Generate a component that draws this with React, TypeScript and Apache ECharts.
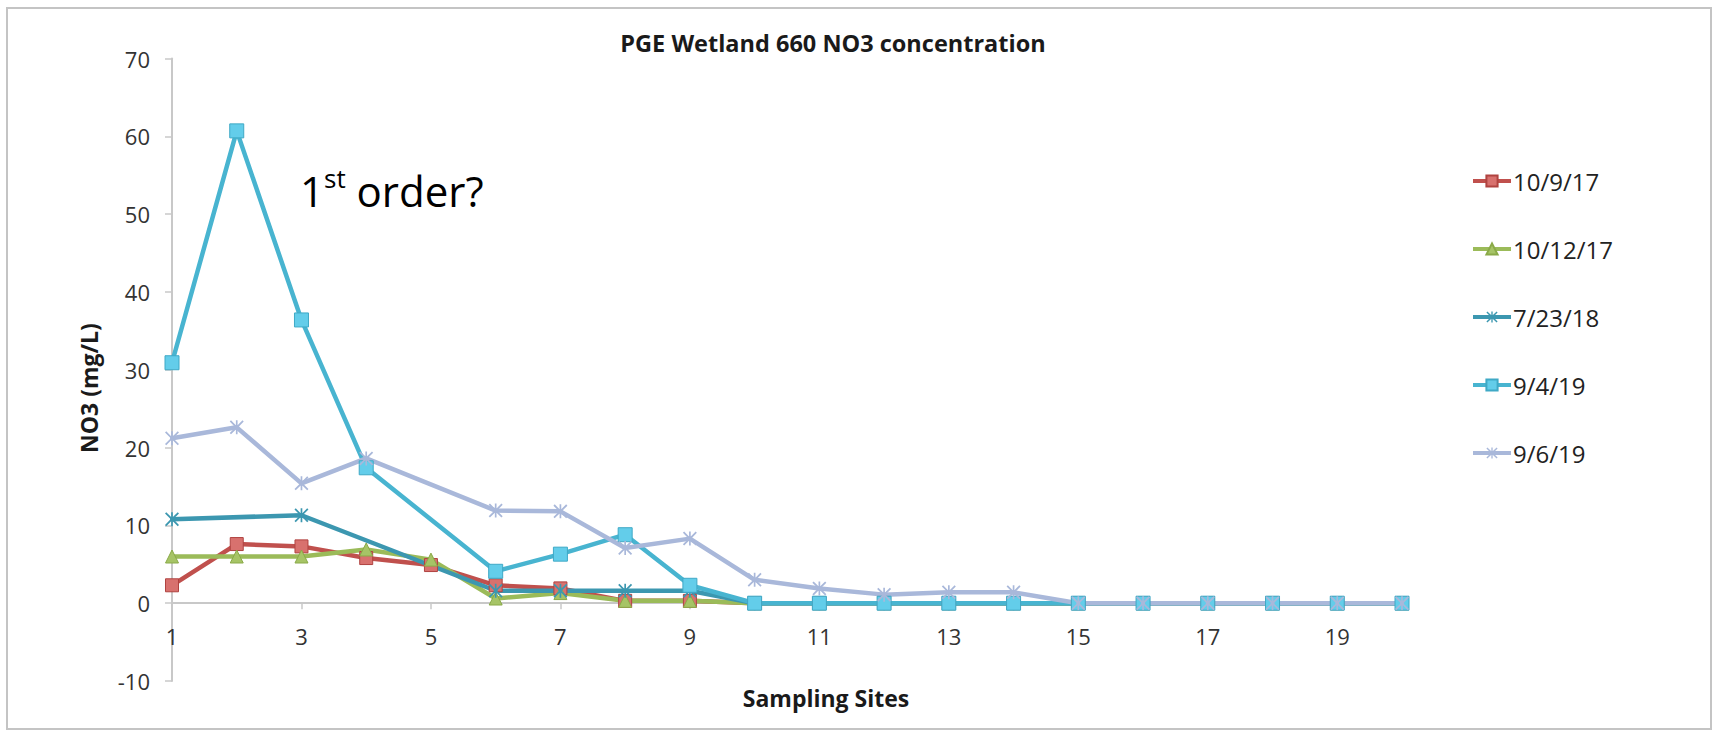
import React, { useEffect, useRef } from "react";
import * as echarts from "echarts";

const FONT = "'Open Sans', 'Liberation Sans', sans-serif";

const sites = ["1","2","3","4","5","6","7","8","9","10","11","12","13","14","15","16","17","18","19","20"];
const seriesNames = ["10/9/17", "10/12/17", "7/23/18", "9/4/19", "9/6/19"];

const d_10_9_17 = [2.3, 7.6, 7.3, 5.8, 4.9, 2.3, 1.9, 0.3, 0.3, 0, 0, 0, 0, 0, 0, 0, 0, 0, 0, 0];
const d_10_12_17 = [6.0, 6.0, 6.0, 6.9, 5.6, 0.6, 1.3, 0.3, 0.3, 0, 0, 0, 0, 0, 0, 0, 0, 0, 0, 0];
const d_7_23_18 = [10.8, null, 11.3, null, null, 1.6, 1.6, 1.6, 1.6, 0, 0, 0, 0, 0, 0, 0, 0, 0, 0, 0];
const d_9_4_19 = [30.9, 60.7, 36.4, 17.4, null, 4.1, 6.3, 8.8, 2.3, 0, 0, 0, 0, 0, 0, 0, 0, 0, 0, 0];
const d_9_6_19 = [21.2, 22.6, 15.4, 18.6, null, 11.9, 11.8, 7.1, 8.3, 3.0, 1.9, 1.1, 1.4, 1.4, 0, 0, 0, 0, 0, 0];

const yTicks = { min: -10, max: 70, interval: 10 };

const STAR =
  "path://M0,0.9 L0.9,0 L4.4,3.5 L4.4,0 L5.6,0 L5.6,3.5 L9.1,0 L10,0.9 L6.4,4.5 L6.4,5.5 L10,9.1 L9.1,10 L5.6,6.5 L5.6,10 L4.4,10 L4.4,6.5 L0.9,10 L0,9.1 L3.6,5.5 L3.6,4.5 Z";

const GRID_TOP = 58.5;
const GRID_BOTTOM_PX = 681;

export default function App() {
  const ref = useRef<HTMLDivElement>(null);

  useEffect(() => {
    if (!ref.current) return;
    const chart = echarts.init(ref.current, undefined, { renderer: "svg" });

    // offset moving the category axis (with its labels) from y=-10 up to y=0
    const zeroOffset =
      -((GRID_BOTTOM_PX - GRID_TOP) * (0 - yTicks.min)) / (yTicks.max - yTicks.min);

    const mk = (
      name: string,
      data: (number | null)[],
      line: string,
      fill: string,
      border: string,
      symbol: string,
      size: number,
      bw: number
    ) => ({
      name,
      type: "line",
      data,
      connectNulls: true,
      symbol,
      symbolSize: size,
      showAllSymbol: true,
      lineStyle: { color: line, width: 4.5 },
      itemStyle: { color: fill, borderColor: border, borderWidth: bw },
      emphasis: { disabled: true },
      z: 2,
    });

    chart.setOption({
      animation: false,
      backgroundColor: "#ffffff",
      title: {
        text: "PGE Wetland 660 NO3 concentration",
        left: 828,
        top: 26,
        textAlign: "center",
        textStyle: { fontFamily: FONT, fontWeight: "bold", fontSize: 23.5, color: "#1a1a1a" },
      },
      grid: { left: 172, right: 317, top: GRID_TOP, bottom: 735 - GRID_BOTTOM_PX, containLabel: false },
      legend: {
        orient: "vertical",
        left: 1466,
        top: 164,
        itemWidth: 38,
        itemHeight: 14,
        itemGap: 44,
        data: seriesNames,
        lineStyle: { width: 4 },
        textStyle: { fontFamily: FONT, fontSize: 24, color: "#222", lineHeight: 24, padding: [0, 0, 0, -3] },
      },
      xAxis: {
        type: "category",
        data: sites,
        boundaryGap: false,
        offset: zeroOffset,
        axisLine: { onZero: false, lineStyle: { color: "#c8c8c8", width: 2 } },
        axisTick: { show: true, interval: 1, length: 6, lineStyle: { color: "#c8c8c8", width: 1.5 } },
        axisLabel: { interval: 1, margin: 22, fontFamily: FONT, fontSize: 22, color: "#333" },
        splitLine: { show: false },
      },
      yAxis: {
        type: "value",
        min: yTicks.min,
        max: yTicks.max,
        interval: yTicks.interval,
        axisLine: { show: true, lineStyle: { color: "#c8c8c8", width: 2 } },
        axisTick: { show: true, length: 7, lineStyle: { color: "#c8c8c8", width: 1.5 } },
        axisLabel: { margin: 22, fontFamily: FONT, fontSize: 22, color: "#333" },
        splitLine: { show: false },
      },
      graphic: [
        {
          type: "rect",
          shape: { x: 7, y: 8, width: 1704, height: 721 },
          style: { fill: "none", stroke: "#c4c4c4", lineWidth: 2 },
          silent: true,
          z: -1,
        },
        {
          type: "text",
          x: 89,
          y: 388,
          rotation: Math.PI / 2,
          style: {
            text: "NO3 (mg/L)",
            fontFamily: FONT,
            fontWeight: "bold",
            fontSize: 23,
            fill: "#1a1a1a",
            align: "center",
            verticalAlign: "middle",
          },
        },
        {
          type: "text",
          x: 826,
          y: 698,
          style: {
            text: "Sampling Sites",
            fontFamily: FONT,
            fontWeight: "bold",
            fontSize: 23,
            fill: "#1a1a1a",
            align: "center",
            verticalAlign: "middle",
          },
        },
        {
          type: "text",
          x: 300,
          y: 190,
          style: {
            text: "{a|1}{b|st}{a| order?}",
            fontFamily: FONT,
            fill: "#000",
            verticalAlign: "middle",
            align: "left",
            rich: {
              a: { fontFamily: FONT, fontSize: 42, lineHeight: 50, fill: "#000" },
              b: { fontFamily: FONT, fontSize: 26, lineHeight: 30, verticalAlign: "top", fill: "#000" },
            },
          },
        },
      ],
      series: [
        mk(seriesNames[0], d_10_9_17, "#c0504d", "#d8716e", "#b04340", "rect", 13, 1),
        mk(seriesNames[1], d_10_12_17, "#9bbb59", "#a6c466", "#8aaa48", "triangle", 13, 1),
        mk(seriesNames[2], d_7_23_18, "#3c97b0", "#3c97b0", "#3c97b0", STAR, 14, 0),
        mk(seriesNames[3], d_9_4_19, "#48b4d0", "#63cdea", "#3fa9c6", "rect", 14, 1),
        mk(seriesNames[4], d_9_6_19, "#a9b8da", "#a9b8da", "#a9b8da", STAR, 14, 0),
      ],
    });

    return () => chart.dispose();
  }, []);

  return (
    <div
      ref={ref}
      style={{ position: "fixed", left: 0, top: 0, width: 1719, height: 735, background: "#fff" }}
    />
  );
}
